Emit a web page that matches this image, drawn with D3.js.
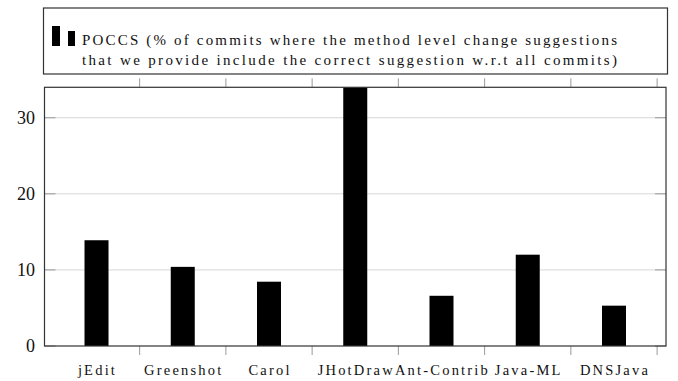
<!DOCTYPE html>
<html>
<head>
<meta charset="utf-8">
<script src="https://cdn.jsdelivr.net/npm/d3@7"></script>
<style>
  body { margin: 0; background: #fff; }
  svg { display: block; }
</style>
</head>
<body>
<svg></svg>
<script>
const width = 678;
const height = 381;

// data
const projects = ["jEdit", "Greenshot", "Carol", "JHotDraw", "Ant-Contrib", "Java-ML", "DNSJava"];
const poccs = [13.9, 10.4, 8.45, 34, 6.6, 12.0, 5.3];
const yTicks = [0, 10, 20, 30];
const legendLines = [
  "POCCS (% of commits where the method level change suggestions",
  "that we provide include the correct suggestion w.r.t all commits)"
];

const plot = {left: 44.5, right: 666, top: 87.3, bottom: 346};
const serif = '"Liberation Serif"';

let svg = d3.select("svg")
  .attr("width", width)
  .attr("height", height);

let x = d3.scalePoint()
  .domain(projects)
  .range([plot.left, plot.right])
  .padding(0.603);

let y = d3.scaleLinear()
  .domain([0, 34])
  .range([plot.bottom, plot.top]);

const step = x.step();
const barW = 24;

// grid lines
svg.append("g")
  .selectAll("line")
  .data(yTicks.filter(d => d > 0))
  .enter().append("line")
  .attr("x1", plot.left).attr("x2", plot.right)
  .attr("y1", d => y(d)).attr("y2", d => y(d))
  .attr("stroke", "#d6d6d6")
  .attr("stroke-width", 1);

// y ticks left + right (inside)
svg.append("g")
  .selectAll("line")
  .data(yTicks)
  .enter().append("line")
  .attr("x1", plot.left).attr("x2", plot.left + 11)
  .attr("y1", d => y(d)).attr("y2", d => y(d))
  .attr("stroke", "#9a9a9a");
svg.append("g")
  .selectAll("line")
  .data(yTicks)
  .enter().append("line")
  .attr("x1", plot.right - 11).attr("x2", plot.right)
  .attr("y1", d => y(d)).attr("y2", d => y(d))
  .attr("stroke", "#9a9a9a");

// bars
svg.append("g")
  .selectAll("rect")
  .data(projects)
  .enter().append("rect")
  .attr("x", d => x(d) - barW / 2)
  .attr("width", barW)
  .attr("y", (d, i) => y(poccs[i]))
  .attr("height", (d, i) => plot.bottom - y(poccs[i]))
  .attr("fill", "#000");

// x ticks, top and bottom (outside), between categories
const xTickPos = projects.map(d => x(d) + step / 2);
svg.append("g")
  .selectAll("line")
  .data(xTickPos)
  .enter().append("line")
  .attr("x1", d => d).attr("x2", d => d)
  .attr("y1", plot.top - 9).attr("y2", plot.top)
  .attr("stroke", "#9a9a9a");
svg.append("g")
  .selectAll("line")
  .data(xTickPos)
  .enter().append("line")
  .attr("x1", d => d).attr("x2", d => d)
  .attr("y1", plot.bottom).attr("y2", plot.bottom + 9)
  .attr("stroke", "#9a9a9a");

// frame
svg.append("rect")
  .attr("x", plot.left).attr("y", plot.top)
  .attr("width", plot.right - plot.left)
  .attr("height", plot.bottom - plot.top)
  .attr("fill", "none")
  .attr("stroke", "#333")
  .attr("stroke-width", 1.2);

// y labels
svg.append("g")
  .selectAll("text")
  .data(yTicks)
  .enter().append("text")
  .attr("x", 35)
  .attr("y", d => y(d) + 6)
  .attr("text-anchor", "end")
  .attr("font-family", serif)
  .attr("font-size", 18)
  .attr("fill", "#111")
  .text(d => d);

// x labels
svg.append("g")
  .selectAll("text")
  .data(projects)
  .enter().append("text")
  .attr("x", d => x(d) + 1)
  .attr("y", 375)
  .attr("text-anchor", "middle")
  .attr("font-family", serif)
  .attr("font-size", 14.5)
  .attr("letter-spacing", 2.2)
  .attr("fill", "#111")
  .text(d => d);

// legend
let legend = svg.append("g");
legend.append("rect")
  .attr("x", 43.5).attr("y", 8)
  .attr("width", 624).attr("height", 66)
  .attr("fill", "#fff")
  .attr("stroke", "#333")
  .attr("stroke-width", 1.2);
legend.append("rect")
  .attr("x", 52).attr("y", 26).attr("width", 8).attr("height", 20)
  .attr("fill", "#000");
legend.append("rect")
  .attr("x", 68).attr("y", 31).attr("width", 7).attr("height", 15)
  .attr("fill", "#000");
legend.selectAll("text.lg")
  .data(legendLines)
  .enter().append("text")
  .attr("class", "lg")
  .attr("x", 82)
  .attr("y", (d, i) => 44.5 + i * 20)
  .attr("textLength", 535)
  .attr("lengthAdjust", "spacing")
  .attr("font-family", serif)
  .attr("font-size", 15)
  .attr("fill", "#111")
  .text(d => d);
</script>
</body>
</html>
